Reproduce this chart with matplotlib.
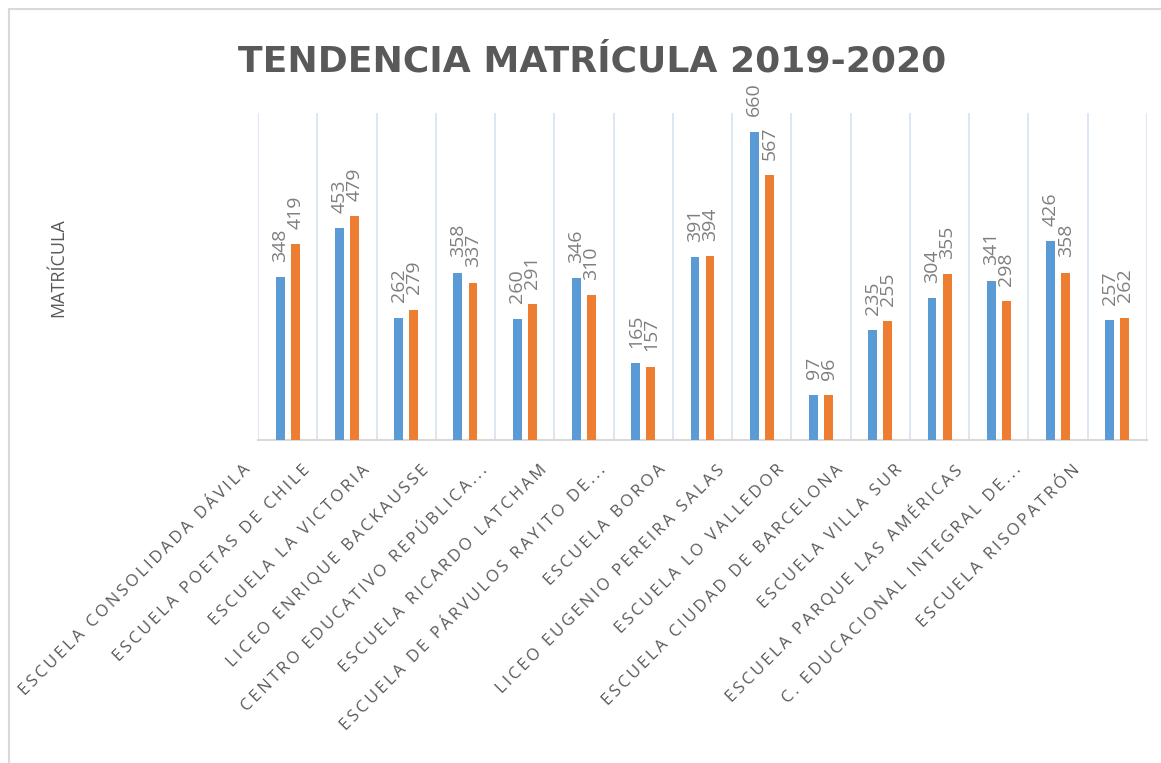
import matplotlib
matplotlib.use("Agg")
import matplotlib.pyplot as plt
import matplotlib.transforms as mtransforms
from matplotlib.patches import Rectangle
import numpy as np

categories = [
    "ESCUELA CONSOLIDADA DÁVILA",
    "ESCUELA POETAS DE CHILE",
    "ESCUELA LA VICTORIA",
    "LICEO ENRIQUE BACKAUSSE",
    "CENTRO EDUCATIVO REPÚBLICA...",
    "ESCUELA RICARDO LATCHAM",
    "ESCUELA DE PÁRVULOS RAYITO DE...",
    "ESCUELA BOROA",
    "LICEO EUGENIO PEREIRA SALAS",
    "ESCUELA LO VALLEDOR",
    "ESCUELA CIUDAD DE BARCELONA",
    "ESCUELA VILLA SUR",
    "ESCUELA PARQUE LAS AMÉRICAS",
    "C. EDUCACIONAL INTEGRAL DE...",
    "ESCUELA RISOPATRÓN",
]
matricula_2019 = [348, 453, 262, 358, 260, 346, 165, 391, 660, 97, 235, 304, 341, 426, 257]
matricula_2020 = [419, 479, 279, 337, 291, 310, 157, 394, 567, 96, 255, 355, 298, 358, 262]

title = "TENDENCIA MATRÍCULA 2019-2020"
ylabel = "MATRÍCULA"

BLUE = "#5B9BD5"
ORANGE = "#ED7D31"
GRID = "#D6E3F3"
TXT = "#595959"
LBL = "#7F7F7F"
FONT = ["Open Sans", "DejaVu Sans"]
WIDE = "DejaVu Sans"


def tracked(s, sep="\u2009"):
    # emulate the letter spacing used for the category labels
    return sep.join(s)


fig = plt.figure(figsize=(11.61, 7.63), dpi=100)
fig.patch.set_facecolor("white")
fig.patches.append(Rectangle((9/1161, -0.01), 1.2, 1 - 9/763 + 0.01, transform=fig.transFigure,
                             fill=False, edgecolor="#D9D9D9", linewidth=1.5))

ax = fig.add_axes([258/1161, 1 - 440/763, (1147 - 258)/1161, (440 - 113)/763])
x = np.arange(len(categories))
w = 0.15
off = 0.127
b1 = ax.bar(x - off, matricula_2019, width=w, color=BLUE, zorder=3)
b2 = ax.bar(x + off, matricula_2020, width=w, color=ORANGE, zorder=3)

for bars in (b1, b2):
    for r in bars:
        ax.annotate(f"{int(r.get_height())}", (r.get_x() + r.get_width()/2, r.get_height()),
                    xytext=(0, 11), textcoords="offset points", rotation=90,
                    ha="center", va="bottom", fontsize=14, color=LBL, family=FONT)

ax.set_xlim(-0.5, len(categories) - 0.5)
ax.set_ylim(0, 700)
ax.set_yticks([])
for b in np.arange(-0.5, len(categories), 1.0):
    ax.axvline(b, color=GRID, linewidth=1.2, zorder=1)
for s in ["top", "right", "left"]:
    ax.spines[s].set_visible(False)
ax.spines["bottom"].set_color("#D9D9D9")
ax.spines["bottom"].set_linewidth(1.5)

ax.set_xticks(x)
ax.set_xticklabels([tracked(c) for c in categories], rotation=45, ha="right", va="top",
                   rotation_mode="anchor", fontsize=12, color=TXT, family=FONT)
ax.tick_params(axis="x", length=0, pad=0)
shift = mtransforms.ScaledTranslation(-45/100, -22/100, fig.dpi_scale_trans)
for lab in ax.get_xticklabels():
    lab.set_transform(lab.get_transform() + shift)

fig.text(592/1161, 1 - 71/763, title, ha="center", va="baseline", fontsize=26,
         fontweight="bold", color=TXT, family=WIDE)
fig.text(58/1161, 1 - 268/763, ylabel, ha="center", va="center", rotation=90,
         fontsize=13, color=TXT, family=FONT)

fig.savefig("out.png", dpi=100)
